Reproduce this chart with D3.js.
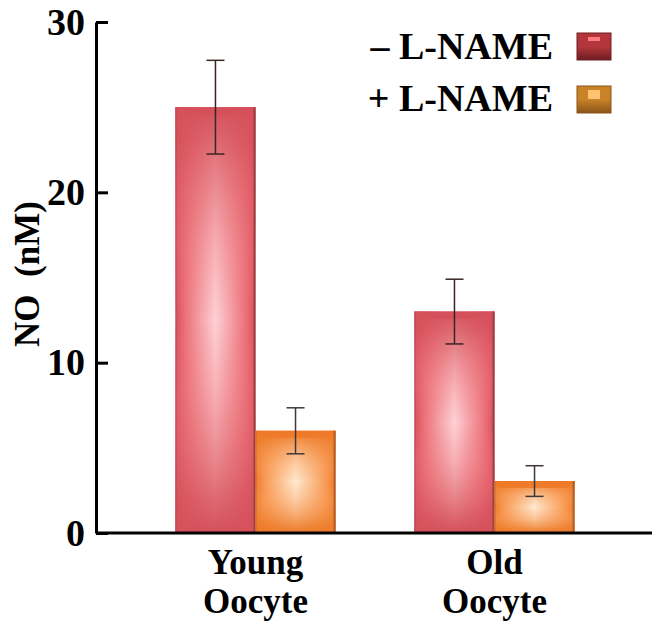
<!DOCTYPE html>
<html><head><meta charset="utf-8">
<script src="https://cdn.jsdelivr.net/npm/d3@7/dist/d3.min.js"></script>
<style>body{margin:0;background:#fff}svg{display:block}text{font-family:"Liberation Serif","Times New Roman",serif;font-weight:bold;fill:#000;white-space:pre}</style>
</head><body>
<svg id="chart" width="660" height="635"></svg>
<script>
const groups = ["Young Oocyte", "Old Oocyte"];
const groupLines = [["Young", "Oocyte"], ["Old", "Oocyte"]];
const seriesNames = ["– L-NAME", "+ L-NAME"];
const minusValues = [25.0, 13.0];
const plusValues = [6.0, 3.05];
const minusErr = [2.75, 1.9];
const plusErr = [1.35, 0.9];
const yTicks = [0, 10, 20, 30];
const yTitle = "NO\u00a0\u00a0(nM)";

const svg = d3.select("#chart");
const defs = svg.append("defs");
const palettes = [
  {edge:"#d5505a", mid:"#ec7078", light:"#fdd2d6", border:"#9c4046", sw1:"#6e1e22", sw2:"#b2363c", swHi:"#ff7a80"},
  {edge:"#ed7a28", mid:"#f89a55", light:"#feead0", border:"#b0602a", sw1:"#8a5418", sw2:"#c98228", swHi:"#ffc270"}
];
palettes.forEach((p,i)=>{
  const h = defs.append("linearGradient").attr("id","h"+i).attr("x1",0).attr("x2",1).attr("y1",0).attr("y2",0);
  [[0,p.edge],[0.12,p.mid],[0.5,p.light],[0.88,p.mid],[1,p.edge]].forEach(s=>h.append("stop").attr("offset",s[0]).attr("stop-color",s[1]));
  const v = defs.append("linearGradient").attr("id","v"+i).attr("x1",0).attr("x2",0).attr("y1",0).attr("y2",1);
  [[0,p.edge,1],[0.08,p.edge,0.8],[0.35,p.mid,0.3],[0.5,p.mid,0],[0.65,p.mid,0.3],[0.92,p.edge,0.8],[1,p.edge,1]].forEach(s=>v.append("stop").attr("offset",s[0]).attr("stop-color",s[1]).attr("stop-opacity",s[2]));
  const sw = defs.append("linearGradient").attr("id","s"+i).attr("x1",0).attr("x2",0).attr("y1",0).attr("y2",1);
  [[0,p.sw2],[0.5,p.sw2],[1,p.sw1]].forEach(s=>sw.append("stop").attr("offset",s[0]).attr("stop-color",s[1]));
});

const y = d3.scaleLinear().domain([0,30]).range([533,22]);
const x0 = d3.scaleBand().domain(groups).range([136,614]).paddingInner(0.33).paddingOuter(0.165);
const x1 = d3.scaleBand().domain(seriesNames).range([0,x0.bandwidth()]);

const data = [];
groups.forEach((g,gi)=>{
  data.push({g, s:seriesNames[0], si:0, v:minusValues[gi], e:minusErr[gi]});
  data.push({g, s:seriesNames[1], si:1, v:plusValues[gi], e:plusErr[gi]});
});

const bars = svg.append("g").selectAll("g").data(data).join("g")
  .attr("transform",d=>`translate(${x0(d.g)+x1(d.s)},0)`);
bars.append("rect").attr("x",0).attr("y",d=>y(d.v)).attr("width",x1.bandwidth()).attr("height",d=>y(0)-y(d.v))
  .attr("fill",d=>`url(#h${d.si})`);
bars.append("rect").attr("x",0).attr("y",d=>y(d.v)).attr("width",x1.bandwidth()).attr("height",d=>y(0)-y(d.v))
  .attr("fill",d=>`url(#v${d.si})`);
bars.append("path").attr("d",d=>{const w=x1.bandwidth(),t=y(d.v);return `M0,${t}H${w}L${w-7},${t+7}H7Z`;})
  .attr("fill",d=>palettes[d.si].edge).attr("opacity",0.9);
bars.append("line").attr("x1",d=>x1.bandwidth()-1).attr("x2",d=>x1.bandwidth()-1).attr("y1",d=>y(d.v)).attr("y2",y(0))
  .attr("stroke",d=>palettes[d.si].border).attr("stroke-width",2);
bars.append("line").attr("x1",0.5).attr("x2",0.5).attr("y1",d=>y(d.v)).attr("y2",y(0))
  .attr("stroke",d=>palettes[d.si].border).attr("stroke-width",1).attr("opacity",0.6);

const eb = bars.append("g").attr("stroke",d=>d.si===0?"#3a2424":"#403838").attr("stroke-width",1.5).attr("fill","none");
const cx = x1.bandwidth()/2;
eb.append("line").attr("x1",cx).attr("x2",cx).attr("y1",d=>y(d.v+d.e)).attr("y2",d=>y(d.v-d.e));
eb.append("line").attr("x1",cx-9).attr("x2",cx+9).attr("y1",d=>y(d.v+d.e)).attr("y2",d=>y(d.v+d.e));
eb.append("line").attr("x1",cx-9).attr("x2",cx+9).attr("y1",d=>y(d.v-d.e)).attr("y2",d=>y(d.v-d.e));

const yAxis = svg.append("g").attr("transform","translate(96,0)")
  .call(d3.axisLeft(y).tickValues(yTicks).tickFormat(d3.format("d")).tickSizeInner(-12).tickSizeOuter(0).tickPadding(11));
yAxis.select(".domain").attr("stroke","#000").attr("stroke-width",3);
yAxis.selectAll(".tick line").attr("stroke","#000").attr("stroke-width",3);
yAxis.selectAll(".tick text").attr("font-size",38).attr("font-family",'"Liberation Serif",serif').attr("font-weight","bold").attr("fill","#000");

svg.append("line").attr("x1",96).attr("x2",652).attr("y1",y(0)).attr("y2",y(0)).attr("stroke","#000").attr("stroke-width",3);

groups.forEach((g,gi)=>{
  const t = svg.append("text").attr("text-anchor","middle").attr("font-size",35);
  groupLines[gi].forEach((ln,li)=>t.append("tspan").attr("x",x0(g)+x0.bandwidth()/2).attr("y",li===0?574:613).text(ln));
});

svg.append("text").attr("transform","translate(27,274) rotate(-90)").attr("text-anchor","middle")
  .attr("dominant-baseline","central").attr("font-size",35).text(yTitle);

seriesNames.forEach((s,i)=>{
  const ly = [59,111][i];
  svg.append("text").attr("x",553).attr("y",ly).attr("text-anchor","end").attr("font-size",38).text(s);
  const sy = [33,86][i];
  svg.append("rect").attr("x",577).attr("y",sy).attr("width",34).attr("height",27).attr("fill",`url(#s${i})`)
    .attr("stroke",palettes[i].sw1).attr("stroke-width",1);
  svg.append("rect").attr("x",588).attr("y",sy+4).attr("width",12).attr("height",i===0?4:9).attr("fill",palettes[i].swHi);
});
</script>
</body></html>
